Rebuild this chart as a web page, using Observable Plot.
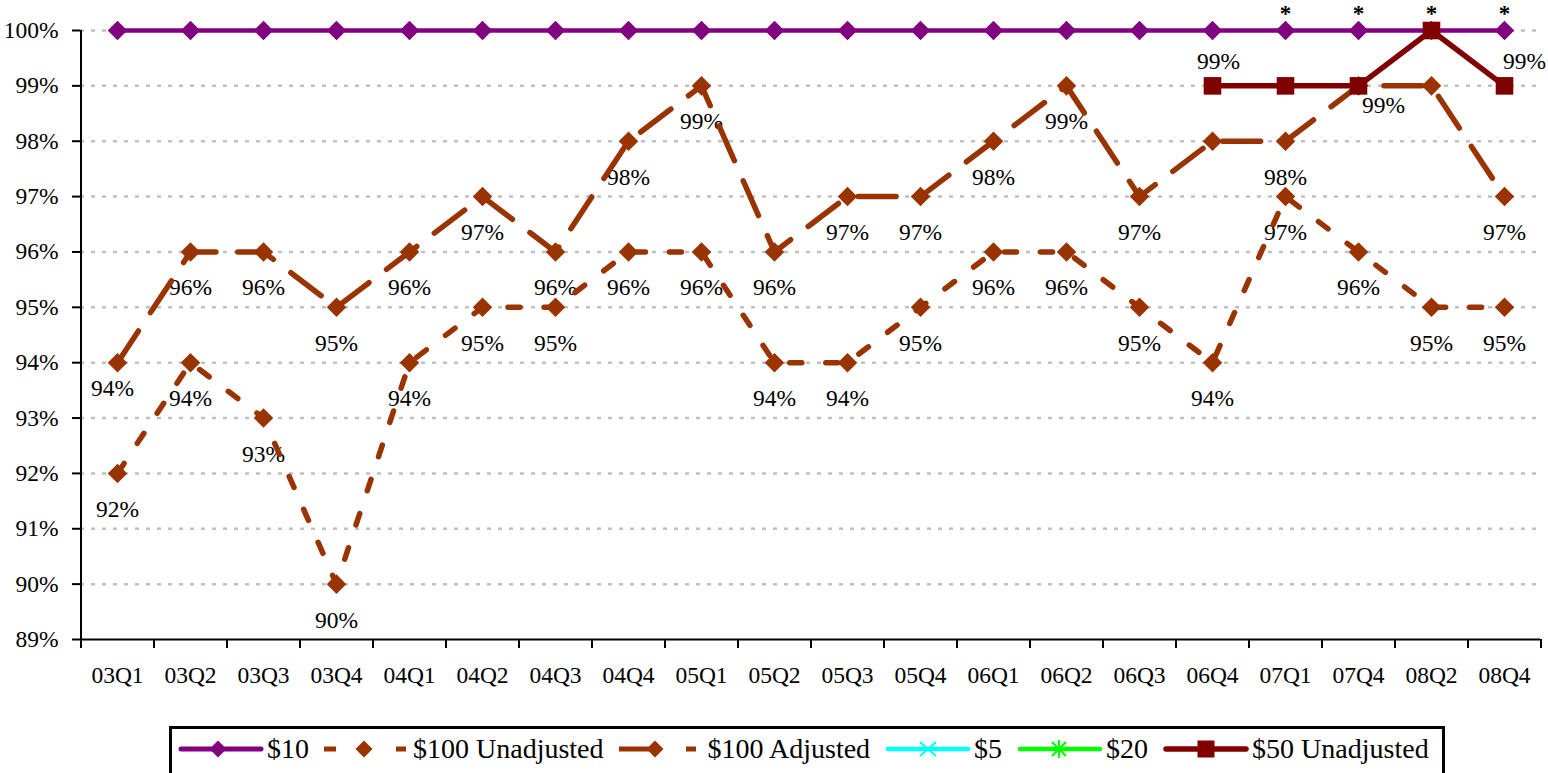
<!DOCTYPE html>
<html><head><meta charset="utf-8">
<script src="https://cdn.jsdelivr.net/npm/d3@7"></script>
<script src="https://cdn.jsdelivr.net/npm/@observablehq/plot@0.6"></script>
<style>
body{margin:0;background:#fff;font-family:"Liberation Serif",serif;overflow:hidden;}
#chart{position:absolute;left:0;top:0;}
#chart svg text{font-family:"Liberation Serif",serif;}
#legend{position:absolute;left:169px;top:726px;width:1276px;height:50px;border:3px solid #000;box-sizing:border-box;display:flex;align-items:center;padding-left:6px;padding-bottom:4px;font-size:28px;color:#000;white-space:nowrap;}
.item{display:flex;align-items:center;margin-right:15px}
.item svg{margin-right:3px;flex:none}
</style></head><body>
<div id="chart"></div><div id="legend"></div>
<script>
const quarters = ["03Q1","03Q2","03Q3","03Q4","04Q1","04Q2","04Q3","04Q4","05Q1","05Q2","05Q3","05Q4","06Q1","06Q2","06Q3","06Q4","07Q1","07Q4","08Q2","08Q4"];
const ten = [100,100,100,100,100,100,100,100,100,100,100,100,100,100,100,100,100,100,100,100];
const unadj100 = [92,94,93,90,94,95,95,96,96,94,94,95,96,96,95,94,97,96,95,95];
const adj100 = [94,96,96,95,96,97,96,98,99,96,97,97,98,99,97,98,98,99,99,97];
const adjLabelShown = [true,true,true,true,true,true,true,true,true,true,true,true,true,true,true,false,true,true,false,true];
const fiveQuarters = [];
const five = [];
const twentyQuarters = [];
const twenty = [];
const fiftyQuarters = ["06Q4","07Q1","07Q4","08Q2","08Q4"];
const fifty = [99,99,99,100,99];
const fiftyLabelShown = [true,false,false,false,true];
const starQuarters = ["07Q1","07Q4","08Q2","08Q4"];
const yTicks = [89,90,91,92,93,94,95,96,97,98,99,100];
const gridTicks = [90,91,92,93,94,95,96,97,98,99,100];
const seriesNames = ["$10","$100 Unadjusted","$100 Adjusted","$5","$20","$50 Unadjusted"];
const seriesColors = ["#800080","#993300","#993300","#00FFFF","#00FF00","#800000"];

const W = 1548, H = 722, ML = 80, MR = 8, MT = 30, MB = 83;
const bw = (W - ML - MR) / quarters.length;
const FONT = "Liberation Serif";
const FS = 23.5;

const rows = (qs, vs, shown) => qs.map((q, i) => ({q, v: vs[i], i, show: shown ? shown[i] : true}));
const tenRows = rows(quarters, ten);
const unRows = rows(quarters, unadj100);
const adRows = rows(quarters, adj100, adjLabelShown);
const fiRows = rows(fiftyQuarters, fifty, fiftyLabelShown);
const fvRows = rows(fiveQuarters, five);
const twRows = rows(twentyQuarters, twenty);
const pct = d => d.v + "%";
const lab = {x: "q", y: "v", text: pct, fontSize: FS, fill: "#000", lineAnchor: "middle"};

const chart = Plot.plot({
  width: W, height: H,
  marginLeft: ML, marginRight: MR, marginTop: MT, marginBottom: MB,
  style: {fontFamily: FONT, fontSize: FS + "px", background: "#fff", color: "#000", overflow: "visible"},
  x: {type: "point", domain: quarters, padding: 0.5},
  y: {domain: [89, 100]},
  marks: [
    Plot.gridY(gridTicks, {stroke: "#c0c0c0", strokeOpacity: 1, strokeWidth: 2.5, strokeDasharray: "4,7"}),
    Plot.axisY({ticks: yTicks, tickSize: 8, tickPadding: 14, tickFormat: d => d + "%", fontSize: FS, strokeWidth: 2, label: null}),
    Plot.axisX({tickSize: 9, tickFormat: () => "", dx: -bw / 2, strokeWidth: 2, label: null}),
    Plot.axisX({ticks: [quarters[quarters.length - 1]], tickSize: 9, tickFormat: () => "", dx: bw / 2, strokeWidth: 2, label: null}),
    Plot.axisX({tickSize: 0, tickPadding: 27, fontSize: FS, label: null}),
    Plot.ruleY([89], {strokeWidth: 2}),
    Plot.ruleX([quarters[0]], {dx: -bw / 2, y1: 89, y2: 100, strokeWidth: 2}),
    // data labels
    Plot.text(unRows, {...lab, dy: 36}),
    Plot.text(adRows.filter(d => d.show && d.i !== 0 && d.i !== 17), {...lab, dy: 36}),
    Plot.text(adRows.filter(d => d.i === 0), {...lab, dy: 26, dx: -5}),
    Plot.text(adRows.filter(d => d.i === 17), {...lab, dy: 20, dx: 25}),
    Plot.text(fiRows.filter(d => d.show && d.i !== 4), {...lab, dy: -24, dx: 6}),
    Plot.text(fiRows.filter(d => d.show && d.i === 4), {...lab, dy: -24, dx: 20}),
    // $100 adjusted (long dash)
    Plot.line(adRows, {x: "q", y: "v", stroke: seriesColors[2], strokeWidth: 5.5, strokeDasharray: "38,22"}),
    Plot.dot(adRows, {x: "q", y: "v", symbol: "diamond2", r: 8.8, fill: seriesColors[2], stroke: "none"}),
    // $100 unadjusted (short dash)
    Plot.line(unRows, {x: "q", y: "v", stroke: seriesColors[1], strokeWidth: 5.5, strokeDasharray: "12,24"}),
    Plot.dot(unRows, {x: "q", y: "v", symbol: "diamond2", r: 8.8, fill: seriesColors[1], stroke: "none"}),
    // $5, $20 (no data in chart)
    Plot.line(fvRows, {x: "q", y: "v", stroke: seriesColors[3], strokeWidth: 4}),
    Plot.line(twRows, {x: "q", y: "v", stroke: seriesColors[4], strokeWidth: 4}),
    // $10
    Plot.line(tenRows, {x: "q", y: "v", stroke: seriesColors[0], strokeWidth: 4.5}),
    Plot.dot(tenRows, {x: "q", y: "v", symbol: "diamond2", r: 8.8, fill: seriesColors[0], stroke: "none"}),
    // $50 unadjusted
    Plot.line(fiRows, {x: "q", y: "v", stroke: seriesColors[5], strokeWidth: 5.5}),
    Plot.dot(fiRows, {x: "q", y: "v", symbol: "square2", r: 11.2, fill: seriesColors[5], stroke: "none"}),
    // asterisks
    Plot.text(starQuarters, {x: d => d, y: () => 100, text: () => "*", dy: -17, fontSize: 23, fontWeight: "bold", fill: "#000", lineAnchor: "middle"})
  ]
});
document.getElementById("chart").appendChild(chart);

// legend
const sw = {
  "$10": `<line x1="3" y1="15" x2="83" y2="15" stroke="#800080" stroke-width="5" stroke-linecap="round"/><path d="M40 6.5 L48.5 15 L40 23.5 L31.5 15 Z" fill="#800080"/>`,
  "$100 Unadjusted": `<line x1="0" y1="15" x2="12" y2="15" stroke="#993300" stroke-width="5"/><path d="M40 6.5 L48.5 15 L40 23.5 L31.5 15 Z" fill="#993300"/><line x1="72" y1="15" x2="82" y2="15" stroke="#993300" stroke-width="5"/>`,
  "$100 Adjusted": `<line x1="0" y1="15" x2="30" y2="15" stroke="#993300" stroke-width="5"/><path d="M36 6.5 L44.5 15 L36 23.5 L27.5 15 Z" fill="#993300"/><line x1="67" y1="15" x2="77" y2="15" stroke="#993300" stroke-width="5"/>`,
  "$5": `<line x1="3" y1="15" x2="83" y2="15" stroke="#00FFFF" stroke-width="4.5" stroke-linecap="round"/><path d="M35 8 L51 22 M51 8 L35 22" stroke="#00FFFF" stroke-width="2.2"/>`,
  "$20": `<line x1="3" y1="15" x2="83" y2="15" stroke="#00FF00" stroke-width="4.5" stroke-linecap="round"/><path d="M35 8 L49 22 M49 8 L35 22 M42 6 L42 24 M33 15 L51 15" stroke="#00FF00" stroke-width="2.2"/>`,
  "$50 Unadjusted": `<line x1="3" y1="15" x2="83" y2="15" stroke="#800000" stroke-width="5.5" stroke-linecap="round"/><rect x="34.5" y="6.5" width="17" height="17" fill="#800000"/>`
};
const leg = document.getElementById("legend");
seriesNames.forEach(n => {
  const it = document.createElement("div");
  it.className = "item";
  it.innerHTML = `<svg width="86" height="30" viewBox="0 0 86 30">${sw[n]}</svg><span>${n}</span>`;
  leg.appendChild(it);
});
</script>
</body></html>
